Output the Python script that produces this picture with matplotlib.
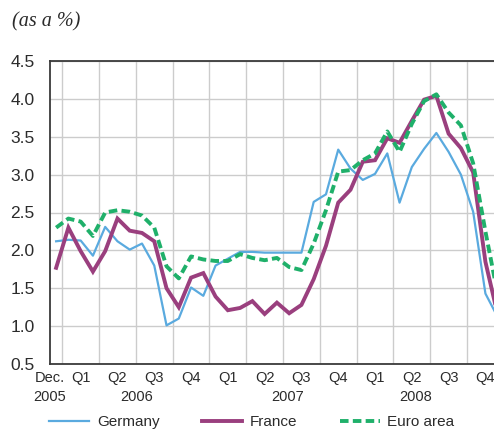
import matplotlib
matplotlib.use("Agg")
import matplotlib.pyplot as plt
from matplotlib import font_manager

# ---- data (monthly, Dec 2005 .. Dec 2008) ----
germany = [2.12, 2.14, 2.13, 1.93, 2.31, 2.12, 2.01, 2.09, 1.80, 1.01, 1.10, 1.51,
           1.40, 1.80, 1.89, 1.98, 1.98, 1.97, 1.97, 1.97, 1.97, 2.64, 2.74, 3.33,
           3.08, 2.93, 3.01, 3.28, 2.63, 3.10, 3.34, 3.55, 3.30, 3.00, 2.51, 1.43, 1.12]
france = [1.77, 2.30, 1.99, 1.72, 1.99, 2.42, 2.26, 2.23, 2.12, 1.50, 1.25, 1.64,
          1.70, 1.39, 1.21, 1.24, 1.33, 1.16, 1.31, 1.17, 1.28, 1.62, 2.06, 2.63,
          2.80, 3.17, 3.19, 3.48, 3.42, 3.71, 3.99, 4.04, 3.54, 3.35, 3.03, 1.85, 1.15]
euro = [2.30, 2.42, 2.38, 2.19, 2.50, 2.53, 2.51, 2.46, 2.30, 1.79, 1.63, 1.92,
        1.88, 1.86, 1.86, 1.95, 1.90, 1.87, 1.90, 1.78, 1.74, 2.09, 2.53, 3.04,
        3.06, 3.19, 3.28, 3.57, 3.30, 3.67, 3.97, 4.06, 3.82, 3.65, 3.15, 2.25, 1.42]
quarter_labels = ["Q1", "Q2", "Q3", "Q4", "Q1", "Q2", "Q3", "Q4", "Q1", "Q2", "Q3", "Q4"]
year_labels = ["2005", "2006", "2007", "2008"]
series_names = ["Germany", "France", "Euro area"]

# ---- fonts ----
names = {f.name for f in font_manager.fontManager.ttflist}
sans = "Liberation Sans Narrow" if "Liberation Sans Narrow" in names else "Liberation Sans"
plt.rcParams["font.family"] = [sans, "DejaVu Sans"]
text_col = "#2b2b2b"

fig = plt.figure(figsize=(4.94, 4.33), dpi=100)
ax = fig.add_axes([50 / 494, 1 - 364 / 433, 1 - 50 / 494, 303 / 433])

x = list(range(len(germany)))
ax.plot(x, germany, color="#5aaadf", lw=1.6, label=series_names[0], zorder=3)
ax.plot(x, france, color="#9a3f7e", lw=2.8, label=series_names[1], zorder=4,
        solid_joinstyle="miter")
ax.plot(x, euro, color="#1fb06a", lw=2.8, label=series_names[2], zorder=5,
        dashes=(2.2, 1.1), dash_capstyle="butt")

ax.set_xlim(-0.5, 35.7)
ax.set_ylim(0.5, 4.5)
yt = [0.5 + 0.5 * k for k in range(9)]
ax.set_yticks(yt)
ax.set_yticklabels([f"{v:.1f}" for v in yt], fontsize=12.5, color=text_col)
ax.tick_params(axis="y", length=0, pad=11)
ax.set_xticks([0.5 + 3 * k for k in range(12)])
ax.set_xticklabels([])
ax.tick_params(axis="x", length=0)

ax.grid(True, color="#cccccc", lw=1.0)
ax.set_axisbelow(True)
for s in ["left", "bottom", "top"]:
    ax.spines[s].set_color("#3a3a3a")
    ax.spines[s].set_linewidth(1.3)
ax.spines["right"].set_visible(False)

# quarter labels
trans = ax.get_xaxis_transform()
ax.text(-0.5, -0.045, "Dec.", transform=trans, ha="center", va="center",
        fontsize=10.5, color=text_col)
for k, q in enumerate(quarter_labels):
    ax.text(2 + 3 * k, -0.045, q, transform=trans, ha="center", va="center",
            fontsize=10.5, color=text_col, clip_on=False)
year_pos = [-0.5, 6.6, 18.9, 29.3]
for xp, yl in zip(year_pos, year_labels):
    ax.text(xp, -0.11, yl, transform=trans, ha="center", va="center",
            fontsize=10.5, color=text_col)

leg = fig.legend(loc="center", bbox_to_anchor=(0.51, 1 - 422 / 433), ncol=3,
                 frameon=False, fontsize=11, handlelength=2.6, handletextpad=0.5,
                 columnspacing=2.8, labelcolor=text_col)

fig.text(12 / 494, 1 - 22 / 433, "(as a %)", fontsize=14.5, style="italic",
         family=["Liberation Serif", "DejaVu Serif"], color=text_col,
         ha="left", va="center")

fig.savefig("out.png", dpi=100)
